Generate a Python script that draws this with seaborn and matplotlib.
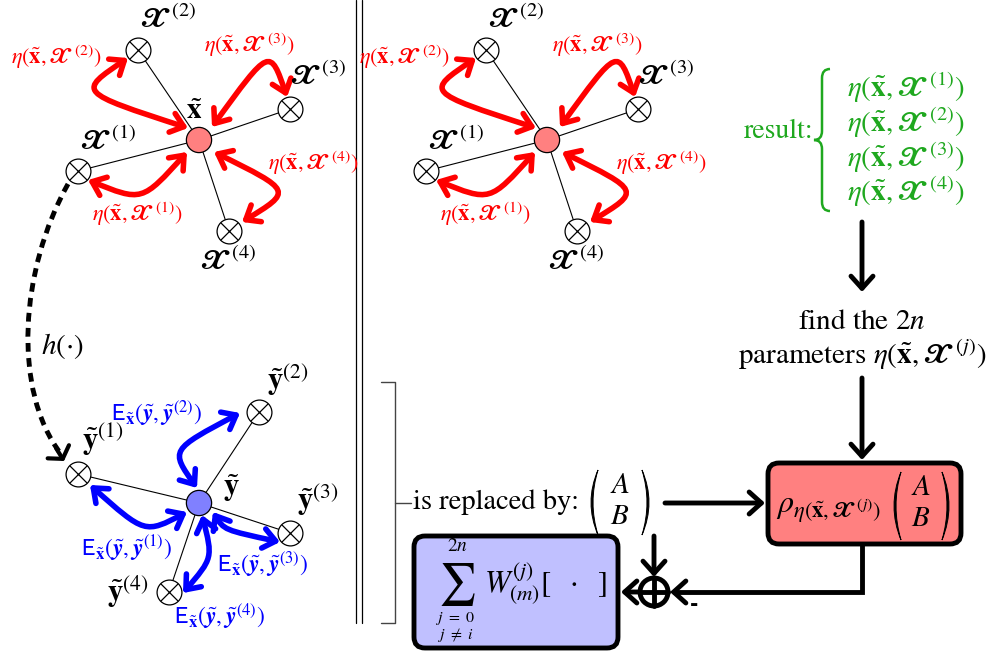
import numpy as np
import pandas as pd
import matplotlib.pyplot as plt
import matplotlib.patheffects as pe
import seaborn as sns
from matplotlib import font_manager, ft2font
from matplotlib.patches import Circle, FancyArrowPatch, FancyBboxPatch, PathPatch
from matplotlib.path import Path
from matplotlib.mathtext import MathTextParser

sns.set_theme(style='white')
plt.rcParams['font.family'] = ['STIXGeneral', 'DejaVu Serif']
plt.rcParams['mathtext.fontset'] = 'stix'


def parses(s):
    try:
        MathTextParser('agg').parse(s)
        return True
    except Exception:
        return False


def stix_has(weight, cp):
    try:
        fp = font_manager.FontProperties(family='STIXGeneral', weight=weight)
        f = ft2font.FT2Font(font_manager.findfont(fp, fallback_to_default=False))
        return cp in f.get_charmap()
    except Exception:
        return False


# bold script X: real glyph if the bundled STIX font has it, else stroked \mathcal
FAKE_BOLD = False
if stix_has('bold', 0x1D4E7):
    BX = r'\mathbf{' + chr(0x1D4E7) + '}'
elif stix_has('normal', 0x1D4E7):
    BX = r'\mathrm{' + chr(0x1D4E7) + '}'
else:
    BX = r'\mathcal{X}'
    FAKE_BOLD = True
if not parses('$' + BX + '$'):
    BX = r'\mathcal{X}'
    FAKE_BOLD = True
BY = r'\mathbfit{y}' if parses(r'$\mathbfit{y}$') else r'\mathbf{y}'
# upright sans-serif E
SE = r'\mathrm{' + chr(0x1D5A4) + '}' if stix_has('normal', 0x1D5A4) else r'\mathsf{E}'
if not parses('$' + SE + '$'):
    SE = r'\mathsf{E}'

RED = '#ff0000'
BLUE = '#0000ff'
GREEN = '#1fa81f'

# star of the x-sigma points (centre, then satellites 1..4)
x_centre = (199, 140)
x_sats = [(78, 171), (138, 50), (290, 109), (229, 231)]
x_shift = 348  # the second copy of the star
x_bends = [(-57, 62), (-122, -48), (71, -93), (94, 51)]
x_tip_c = [(-12, 12), (-11, -12), (13, -13), (15, 12)]
x_tip_s = [(10, 9), (-10, 8), (-3, -12), (13, -9)]
x_node_lbl = [(108, 142), (168, 20), (318, 77), (228, 262)]
x_eta_lbl = [(137, 214), (56, 57), (249, 45), (313, 163)]

# star of the y-sigma points
y_centre = (199, 503)
y_sats = [(78, 474), (259, 412), (290, 533), (169, 592)]
y_bends = [(-54, 31), (-29, -53), (25, 27), (14, 55)]
y_tip_c = [(-12, 9), (-2, -15), (14, 9), (3, 12)]
y_tip_s = [(12, 11), (-19, 1), (-10, 9), (14, 1)]
y_node_lbl = [(103, 440), (288, 380), (318, 500), (128, 592)]
y_E_lbl = [(127, 548), (157, 413), (263, 564), (220, 616)]

sat_ids = ['1', '2', '3', '4']
result_y = [88, 123, 158, 192]

fig = plt.figure(figsize=(9.89, 6.53), dpi=100)
ax = fig.add_axes([0, 0, 1, 1])
ax.set_xlim(0, 989)
ax.set_ylim(653, 0)
ax.axis('off')


def label(x, y, s, size, color='black', **kw):
    t = ax.text(x, y, s, fontsize=size, color=color, zorder=kw.pop('zorder', 7), **kw)
    if FAKE_BOLD and BX in s:
        t.set_path_effects([pe.withStroke(linewidth=0.9, foreground=color)])
    return t


# spokes through seaborn
rows = []
stars = [(x_centre, x_sats, 0), (x_centre, x_sats, x_shift), (y_centre, y_sats, 0)]
k = 0
for c, sats, dx in stars:
    for s in sats:
        rows.append(dict(x=c[0] + dx, y=c[1], spoke=k))
        rows.append(dict(x=s[0] + dx, y=s[1], spoke=k))
        k += 1
spokes = pd.DataFrame(rows)
sns.lineplot(data=spokes, x='x', y='y', units='spoke', estimator=None, sort=False,
             color='black', lw=0.8, ax=ax, legend=False)

# otimes nodes
sat_df = pd.DataFrame([dict(x=s[0] + dx, y=s[1]) for c, sats, dx in stars for s in sats])
sns.scatterplot(data=sat_df, x='x', y='y', s=320, color='white', edgecolor='black',
                linewidth=0.9, ax=ax, zorder=3, legend=False)
sns.scatterplot(data=sat_df, x='x', y='y', s=160, marker='x', color='black',
                linewidth=0.9, ax=ax, zorder=4, legend=False)

# centre nodes
cen_df = pd.DataFrame(dict(x=[x_centre[0], x_centre[0] + x_shift, y_centre[0]],
                           y=[x_centre[1], x_centre[1], y_centre[1]],
                           kind=['x', 'x', 'y']))
sns.scatterplot(data=cen_df, x='x', y='y', hue='kind', palette={'x': '#ff8080', 'y': '#8080ff'},
                s=330, edgecolor='black', linewidth=0.9, ax=ax, zorder=5, legend=False)


def bent_arrow(p0, ctrl, p1, color, lw=4):
    path = Path([p0, ctrl, ctrl, p1], [Path.MOVETO, Path.CURVE4, Path.CURVE4, Path.CURVE4])
    ax.add_patch(FancyArrowPatch(path=path, arrowstyle='<->,head_length=0.4,head_width=0.32',
                                 mutation_scale=22, color=color, lw=lw, zorder=6,
                                 joinstyle='round', capstyle='round'))


for dx in (0, x_shift):
    cx, cy = x_centre[0] + dx, x_centre[1]
    for i, s in enumerate(x_sats):
        p0 = (cx + x_tip_c[i][0], cy + x_tip_c[i][1])
        p1 = (s[0] + dx + x_tip_s[i][0], s[1] + x_tip_s[i][1])
        ctrl = (cx + x_bends[i][0], cy + x_bends[i][1])
        bent_arrow(p0, ctrl, p1, RED)
        lx, ly = x_node_lbl[i]
        label(lx + dx, ly, rf'${BX}^{{\,({sat_ids[i]})}}$', 21, ha='center', va='center')
        ex, ey = x_eta_lbl[i]
        label(ex + dx, ey, rf'$\eta(\tilde{{\mathbf{{x}}}},{BX}^{{\,({sat_ids[i]})}})$', 16,
              color=RED, ha='center', va='center')
label(194, 112, r'$\tilde{\mathbf{x}}$', 21, ha='center', va='center')

cx, cy = y_centre
for i, s in enumerate(y_sats):
    p0 = (cx + y_tip_c[i][0], cy + y_tip_c[i][1])
    p1 = (s[0] + y_tip_s[i][0], s[1] + y_tip_s[i][1])
    ctrl = (cx + y_bends[i][0], cy + y_bends[i][1])
    bent_arrow(p0, ctrl, p1, BLUE)
    lx, ly = y_node_lbl[i]
    label(lx, ly, rf'$\tilde{{\mathbf{{y}}}}^{{({sat_ids[i]})}}$', 22, ha='center', va='center')
    ex, ey = y_E_lbl[i]
    label(ex, ey, rf'${SE}_{{\tilde{{\mathbf{{x}}}}}}(\tilde{{{BY}}},\tilde{{{BY}}}^{{({sat_ids[i]})}})$',
          17, color=BLUE, ha='center', va='center')
label(231, 488, r'$\tilde{\mathbf{y}}$', 22, ha='center', va='center')

# dashed h(.) link
h_path = Path([(68, 184), (20, 270), (12, 390), (61, 454)],
              [Path.MOVETO, Path.CURVE4, Path.CURVE4, Path.CURVE4])
ax.add_patch(PathPatch(h_path, fill=False, lw=3.5, ls=(0, (1.8, 1.3)), color='black'))
ax.add_patch(FancyArrowPatch((56, 448), (64, 461), arrowstyle='->,head_length=0.3,head_width=0.45',
                             mutation_scale=20, color='black', lw=3, shrinkA=0, shrinkB=0))
label(62, 346, r'$h(\cdot)$', 21, ha='center', va='center')

# separator lines and bracket
ax.plot([356, 356], [0, 623], color='black', lw=0.9)
ax.plot([362, 362], [0, 623], color='black', lw=0.9)
ax.plot([381, 395, 395, 381], [382, 382, 623, 623], color='#444444', lw=1)
ax.plot([395, 411], [503, 503], color='#444444', lw=1)

# green result block
label(779, 131, 'result:', 20, color=GREEN, ha='center', va='center')
brace = Path([(830, 69), (822, 69), (822, 78), (822, 131), (822, 140), (814, 140),
              (822, 140), (822, 149), (822, 202), (822, 211), (830, 211)],
             [Path.MOVETO, Path.CURVE3, Path.CURVE3, Path.LINETO, Path.CURVE3, Path.CURVE3,
              Path.CURVE3, Path.CURVE3, Path.LINETO, Path.CURVE3, Path.CURVE3])
ax.add_patch(PathPatch(brace, fill=False, color=GREEN, lw=1.8))
for i, ry in enumerate(result_y):
    label(906, ry, rf'$\eta(\tilde{{\mathbf{{x}}}},{BX}^{{\,({sat_ids[i]})}})$', 21,
          color=GREEN, ha='center', va='center')


def black_arrow(a, b):
    ax.add_patch(FancyArrowPatch(a, b, arrowstyle='->,head_length=0.4,head_width=0.36',
                                 mutation_scale=22, color='black', lw=3.5, shrinkA=0, shrinkB=0))


black_arrow((862, 222), (862, 292))
label(862, 322, r'find the $2n$', 21, ha='center', va='center')
label(862, 355, r'parameters $\eta(\tilde{\mathbf{x}},' + BX + r'^{\,(j)})$', 21,
      ha='center', va='center')
black_arrow((862, 378), (862, 460))


def parens(x0, x1, top, bot):
    # filled crescents, thicker in the middle like TeX delimiters
    mid = (top + bot) / 2
    for xa, xo, xi in ((x0 + 8, x0 - 6, x0 - 2), (x1 - 8, x1 + 6, x1 + 2)):
        p = Path([(xa, top), (xo, mid), (xa, bot), (xi, mid), (xa, top)],
                 [Path.MOVETO, Path.CURVE3, Path.CURVE3, Path.CURVE3, Path.CURVE3])
        ax.add_patch(PathPatch(p, fc='black', ec='black', lw=0.7, zorder=4))


# "is replaced by"
label(413, 502, 'is replaced by:', 20.5, ha='left', va='center')
parens(590, 650, 470, 535)
label(620, 486, '$A$', 21, ha='center', va='center')
label(620, 517, '$B$', 21, ha='center', va='center')
black_arrow((665, 503), (765, 503))

# red box
ax.add_patch(FancyBboxPatch((768, 463), 193, 81, boxstyle='round,pad=0,rounding_size=11',
                            fc='#ff8080', ec='black', lw=3.5, zorder=2))
label(776, 510, r'$\rho_{\eta(\tilde{\mathbf{x}},' + BX + r'^{\,(j)})}$', 23,
      ha='left', va='center', zorder=3)
parens(893, 950, 472, 540)
label(921, 488, '$A$', 21, ha='center', va='center', zorder=3)
label(921, 519, '$B$', 21, ha='center', va='center', zorder=3)

# blue box
ax.add_patch(FancyBboxPatch((414, 536), 204, 112, boxstyle='round,pad=0,rounding_size=11',
                            fc='#c0c0ff', ec='black', lw=3.5, zorder=2))
label(457, 585, r'$\sum$', 30, ha='center', va='center', zorder=3)
label(457, 546, '$2n$', 14, ha='center', va='center', zorder=3)
label(456, 610, '$j\\ =\\ 0$\n$j\\ \\neq\\ i$', 11.5, ha='center', va='top',
      linespacing=0.95, zorder=3)
label(484, 584, r'$W^{(j)}_{(m)}[\ \ \cdot\ \ ]$', 22, ha='left', va='center', zorder=3)

# summing junction
ax.add_patch(Circle((654, 592), 14, fc='none', ec='black', lw=3.5))
ax.plot([640, 668], [592, 592], color='black', lw=3.5)
ax.plot([654, 654], [578, 606], color='black', lw=3.5)
black_arrow((654, 536), (654, 577))
black_arrow((639, 592), (621, 592))
fb = Path([(862, 545), (862, 592), (670, 592)], [Path.MOVETO, Path.LINETO, Path.LINETO])
ax.add_patch(FancyArrowPatch(path=fb, arrowstyle='->,head_length=0.4,head_width=0.36',
                             mutation_scale=22, color='black', lw=3.5, joinstyle='miter'))
label(694, 604, '-', 18, fontweight='bold', ha='center', va='center')

fig.savefig('out.png', dpi=100)
